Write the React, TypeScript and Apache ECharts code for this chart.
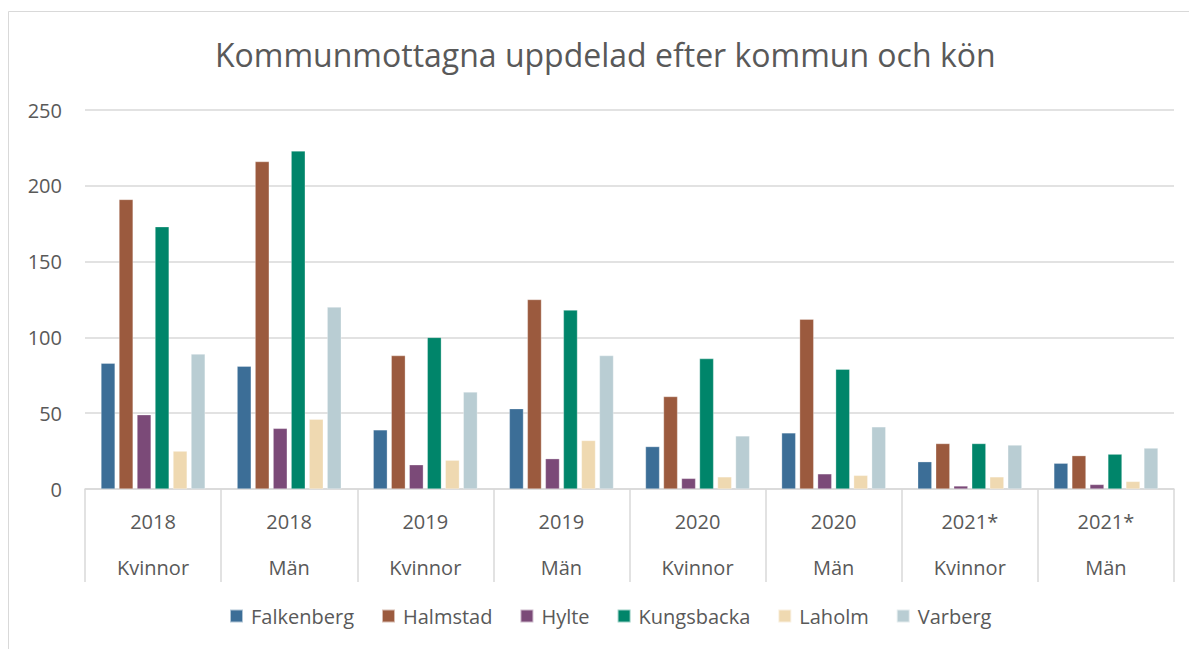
import React, { useEffect, useRef } from "react";
import * as echarts from "echarts";

const title = "Kommunmottagna uppdelad efter kommun och kön";
const years = ["2018", "2018", "2019", "2019", "2020", "2020", "2021*", "2021*"];
const genders = ["Kvinnor", "Män", "Kvinnor", "Män", "Kvinnor", "Män", "Kvinnor", "Män"];

const falkenberg = [83, 81, 39, 53, 28, 37, 18, 17];
const halmstad = [191, 216, 88, 125, 61, 112, 30, 22];
const hylte = [49, 40, 16, 20, 7, 10, 2, 3];
const kungsbacka = [173, 223, 100, 118, 86, 79, 30, 23];
const laholm = [25, 46, 19, 32, 8, 9, 8, 5];
const varberg = [89, 120, 64, 88, 35, 41, 29, 27];

const seriesNames = ["Falkenberg", "Halmstad", "Hylte", "Kungsbacka", "Laholm", "Varberg"];
const seriesData = [falkenberg, halmstad, hylte, kungsbacka, laholm, varberg];
const colors = ["#3C6E97", "#9B5A3E", "#7B4A78", "#00856A", "#EFD9B1", "#B9CDD3"];

const yTicks = { min: 0, max: 250, interval: 50 };

export default function App() {
  const ref = useRef<HTMLDivElement>(null);
  useEffect(() => {
    if (!ref.current) return;
    const chart = echarts.init(ref.current, null, { renderer: "svg" });
    const font = "'Open Sans', sans-serif";
    const categories = years.map((y, i) => `${y}\n${genders[i]}`);
    chart.setOption({
      animation: false,
      backgroundColor: "#FFFFFF",
      textStyle: { fontFamily: font },
      graphic: [
        {
          type: "rect",
          shape: { x: 8.5, y: 11.5, width: 1300, height: 800 },
          style: { fill: "none", stroke: "#D9D9D9", lineWidth: 1 },
          silent: true,
        },
      ],
      title: {
        text: title,
        left: 210,
        top: 33,
        textStyle: { fontFamily: font, fontSize: 32, fontWeight: "normal", color: "#595959" },
      },
      color: colors,
      grid: { left: 85, right: 15, top: 110, bottom: 160, containLabel: false },
      legend: {
        bottom: 18,
        left: 224,
        itemWidth: 13,
        itemHeight: 13,
        itemGap: 27,
        icon: "rect",
        data: seriesNames,
        textStyle: { fontFamily: font, fontSize: 20, color: "#595959", padding: [0, 0, 0, 3] },
      },
      xAxis: {
        type: "category",
        data: categories,
        axisLine: { lineStyle: { color: "#D9D9D9", width: 1.5 } },
        axisTick: { show: true, interval: 0, length: 93, lineStyle: { color: "#D9D9D9", width: 1.5 } },
        axisLabel: {
          interval: 0,
          margin: 9,
          lineHeight: 46,
          fontFamily: font,
          fontSize: 20,
          color: "#595959",
        },
      },
      yAxis: {
        type: "value",
        min: yTicks.min,
        max: yTicks.max,
        interval: yTicks.interval,
        axisLine: { show: false },
        axisTick: { show: false },
        splitLine: { lineStyle: { color: "#D9D9D9", width: 1.5 } },
        axisLabel: { margin: 23, fontFamily: font, fontSize: 20, color: "#595959" },
      },
      series: seriesNames.map((name, i) => ({
        name,
        type: "bar",
        data: seriesData[i],
        barGap: "28%",
        barCategoryGap: "23.5%",
        itemStyle: { color: colors[i], borderColor: "rgba(255,255,255,0.6)", borderWidth: 0.5 },
      })),
    });
    return () => chart.dispose();
  }, []);
  return <div ref={ref} style={{ width: 1189, height: 649, position: "absolute", left: 0, top: 0 }} />;
}
